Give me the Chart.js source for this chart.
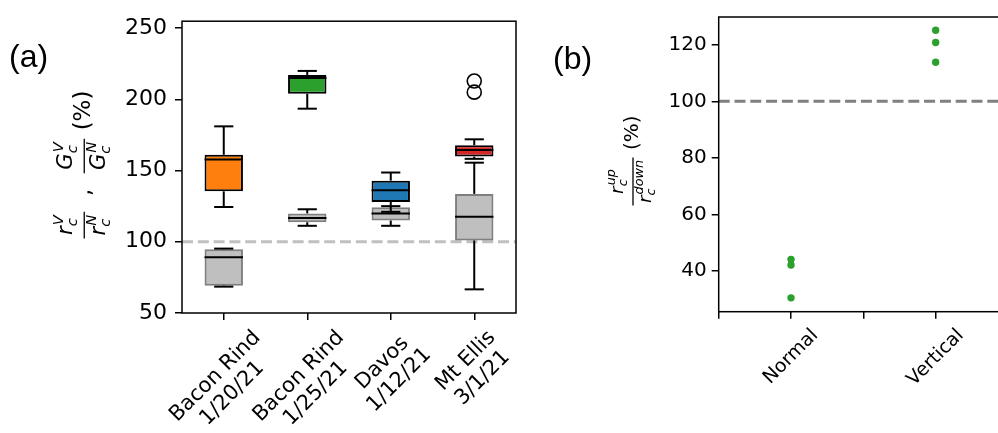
<!DOCTYPE html>
<html><head><meta charset="utf-8">
<script src="https://cdn.jsdelivr.net/npm/chart.js@4.4.1/dist/chart.umd.min.js"></script>
<style>
html,body{margin:0;padding:0;background:#fff;overflow:hidden;width:998px;height:433px;}
#wrap{position:relative;width:998px;height:433px;overflow:hidden;background:#fff;}
#ca{position:absolute;left:0;top:0;}
#cb{position:absolute;left:540px;top:0;}
</style></head><body>
<div id="wrap"><canvas id="ca" width="540" height="433"></canvas><canvas id="cb" width="560" height="433"></canvas></div>
<script>
// ---------- Panel (a) data ----------
const sites = ['Bacon Rind\n1/20/21', 'Bacon Rind\n1/25/21', 'Davos\n1/12/21', 'Mt Ellis\n3/1/21'];
const gColors = ['#ff7f0e', '#2ca02c', '#1f77b4', '#d62728'];
// G_c ratio boxes (coloured)
const gLow  = [124.4, 193.4, 121.0, 158.2];
const gQ1   = [135.4, 203.9, 127.9, 159.8];
const gMed  = [157.7, 214.9, 136.1, 164.4];
const gQ3   = [161.0, 217.1, 142.9, 167.8];
const gHigh = [181.0, 219.9, 148.6, 171.9];
const gOutliers = [[], [], [], [212.8, 205.0]];
// r_c ratio boxes (grey)
const rLow  = [68.5, 111.2, 111.2, 66.6];
const rQ1   = [69.2, 113.7, 114.9, 100.9];
const rMed  = [89.2, 116.6, 119.9, 117.6];
const rQ3   = [94.7, 119.9, 124.2, 133.6];
const rHigh = [95.2, 122.8, 125.0, 155.5];
const yTicksA = [50, 100, 150, 200, 250];
const refLine = 100;

// ---------- Panel (b) data ----------
const conditions = ['', 'Normal', '', 'Vertical', ''];
const normalVals = [44.2, 42.2, 30.6];
const verticalVals = [125.1, 120.8, 113.8];
const yTicksB = [40, 60, 80, 100, 120];

const FONT = '"DejaVu Sans"';

function drawRotLabel(ctx, lines, cx, top, fs, lineH, deg) {
  ctx.save();
  ctx.font = fs + 'px ' + FONT;
  const W = Math.max(...lines.map(l => ctx.measureText(l).width));
  const H = lines.length * lineH;
  const a = deg * Math.PI / 180;
  const bh = W * Math.sin(a) + H * Math.cos(a);
  const cy = top + bh / 2;
  ctx.translate(cx, cy); ctx.rotate(-a);
  ctx.fillStyle = '#000'; ctx.textAlign = 'center'; ctx.textBaseline = 'middle';
  lines.forEach((l, i) => ctx.fillText(l, 0, -H / 2 + lineH * (i + 0.5)));
  ctx.restore();
}

function drawFracLabel(ctx, cx, cy, items, fs) {
  const F = s => s + 'px ' + FONT;
  const FI = s => 'italic ' + s + 'px ' + FONT;
  const bf = fs * 0.92, sf = fs * 0.64, axis = fs * 0.25;
  const mw = (font, s) => { ctx.font = font; return ctx.measureText(s || '').width; };
  const termW = t => mw(FI(bf), t[0]) + Math.max(mw(FI(sf), t[1]), mw(FI(sf), t[2])) + 1;
  const widths = items.map(it => it.num ? Math.max(termW(it.num), termW(it.den)) + fs * 0.35 : mw(F(fs), it.text));
  const total = widths.reduce((a, b) => a + b, 0);
  ctx.save();
  ctx.translate(cx, cy); ctx.rotate(-Math.PI / 2);
  ctx.fillStyle = '#000'; ctx.strokeStyle = '#000'; ctx.textBaseline = 'alphabetic'; ctx.textAlign = 'left';
  function drawTerm(t, u0, base) {
    ctx.font = FI(bf); ctx.fillText(t[0], u0, base);
    const w0 = mw(FI(bf), t[0]);
    ctx.font = FI(sf);
    ctx.fillText(t[1], u0 + w0, base + sf * 0.35);
    ctx.fillText(t[2], u0 + w0 + 1, base - bf * 0.42);
  }
  let u = -total / 2;
  items.forEach((it, k) => {
    const w = widths[k];
    if (it.num) {
      ctx.lineWidth = 1.3;
      ctx.beginPath(); ctx.moveTo(u + 1, -axis); ctx.lineTo(u + w - 1, -axis); ctx.stroke();
      drawTerm(it.num, u + (w - termW(it.num)) / 2, -axis - fs * 0.52);
      drawTerm(it.den, u + (w - termW(it.den)) / 2, -axis + fs * 0.9);
    } else {
      ctx.font = F(fs); ctx.fillText(it.text, u, 0);
    }
    u += w;
  });
  ctx.restore();
}

function dashedRef(chart, color) {
  const {ctx, chartArea: ca, scales: {y}} = chart;
  const py = y.getPixelForValue(refLine);
  ctx.save();
  ctx.strokeStyle = color; ctx.lineWidth = 3; ctx.setLineDash([11, 4.8]);
  ctx.beginPath(); ctx.moveTo(ca.left, py); ctx.lineTo(ca.right, py); ctx.stroke();
  ctx.restore();
}

function frame(chart) {
  const {ctx, chartArea: ca} = chart;
  ctx.save(); ctx.strokeStyle = '#000'; ctx.lineWidth = 1.5;
  ctx.strokeRect(ca.left, ca.top, ca.right - ca.left, ca.bottom - ca.top);
  ctx.restore();
}

const plugA = {
  id: 'plugA',
  beforeDatasetsDraw(chart) { dashedRef(chart, '#c0c0c0'); },
  afterDatasetsDraw(chart) {
    const ctx = chart.ctx, ys = chart.scales.y;
    const Y = v => ys.getPixelForValue(v);
    const groups = [
      {meta: chart.getDatasetMeta(1), low: rLow, q1: rQ1, med: rMed, q3: rQ3, high: rHigh},
      {meta: chart.getDatasetMeta(0), low: gLow, q1: gQ1, med: gMed, q3: gQ3, high: gHigh}
    ];
    ctx.save();
    ctx.strokeStyle = '#000'; ctx.lineWidth = 2;
    const line = (x1, y1, x2, y2) => { ctx.beginPath(); ctx.moveTo(x1, y1); ctx.lineTo(x2, y2); ctx.stroke(); };
    groups.forEach(g => {
      g.meta.data.forEach((bar, i) => {
        const x = bar.x, hw = bar.width / 2, cw = hw / 2;
        line(x, Y(g.q3[i]), x, Y(g.high[i]));
        line(x - cw, Y(g.high[i]), x + cw, Y(g.high[i]));
        line(x, Y(g.q1[i]), x, Y(g.low[i]));
        line(x - cw, Y(g.low[i]), x + cw, Y(g.low[i]));
        line(x - hw, Y(g.med[i]), x + hw, Y(g.med[i]));
      });
    });
    ctx.restore();
  },
  afterDraw(chart) {
    frame(chart);
    const ctx = chart.ctx, xs = chart.scales.x, ca = chart.chartArea;
    sites.forEach((s, i) => drawRotLabel(ctx, s.split('\n'), xs.getPixelForValue(i), ca.bottom + 13, 21, 24, 45));
    drawFracLabel(ctx, 90, 165, [
      {num: ['r', 'c', 'V'], den: ['r', 'c', 'N']},
      {text: '  ,  '},
      {num: ['G', 'c', 'V'], den: ['G', 'c', 'N']},
      {text: ' (%)'}
    ], 23);
    ctx.save(); ctx.fillStyle = '#000'; ctx.font = '32px "Liberation Sans"'; ctx.textBaseline = 'alphabetic';
    ctx.fillText('(a)', 9, 67); ctx.restore();
  }
};

const plugB = {
  id: 'plugB',
  beforeDatasetsDraw(chart) { dashedRef(chart, '#808080'); },
  afterDraw(chart) {
    frame(chart);
    const ctx = chart.ctx, xs = chart.scales.x, ca = chart.chartArea;
    conditions.forEach((c, i) => { if (c) drawRotLabel(ctx, [c], xs.getPixelForValue(i), ca.bottom + 13, 19, 22, 45); });
    drawFracLabel(ctx, 98, 161, [
      {num: ['r', 'c', 'up'], den: ['r', 'c', 'down']},
      {text: ' (%)'}
    ], 20);
    ctx.save(); ctx.fillStyle = '#000'; ctx.font = '32px "Liberation Sans"'; ctx.textBaseline = 'alphabetic';
    ctx.fillText('(b)', 13, 69); ctx.restore();
  }
};

const tickGrid = {drawOnChartArea: false, tickLength: 7, color: '#000', lineWidth: 1.5, tickWidth: 1.5, tickColor: '#000', offset: false};

new Chart(document.getElementById('ca'), {
  type: 'bar',
  data: {
    labels: sites,
    datasets: [
      {label: 'G', data: gQ1.map((v, i) => [v, gQ3[i]]), backgroundColor: gColors, borderColor: '#000', borderWidth: 2,
       borderSkipped: false, grouped: false, order: 1, barPercentage: 0.46, categoryPercentage: 1},
      {label: 'r', data: rQ1.map((v, i) => [v, rQ3[i]]), backgroundColor: 'rgba(128,128,128,0.5)', borderColor: 'rgba(0,0,0,0.5)', borderWidth: 2,
       borderSkipped: false, grouped: false, order: 2, barPercentage: 0.46, categoryPercentage: 1},
      {type: 'line', label: 'fliers', data: gOutliers.flatMap((arr, i) => arr.map(v => ({x: sites[i], y: v}))),
       showLine: false, pointRadius: 7, pointBorderWidth: 1.6, pointBackgroundColor: 'rgba(0,0,0,0)', pointBorderColor: '#000', order: 0}
    ]
  },
  options: {
    responsive: false, animation: false, events: [],
    plugins: {legend: {display: false}, tooltip: {enabled: false}},
    layout: {padding: {left: 0, top: 14, right: 24, bottom: 0}},
    scales: {
      x: {grid: tickGrid, ticks: {display: false}, border: {display: false}, afterFit: s => { s.height = 120; }},
      y: {min: 50, max: 254.8, afterBuildTicks: s => { s.ticks = yTicksA.map(v => ({value: v})); },
          ticks: {font: {family: 'DejaVu Sans', size: 22}, color: '#000', padding: 8},
          grid: tickGrid, border: {display: false}, afterFit: s => { s.width = 182; }}
    }
  },
  plugins: [plugA]
});

new Chart(document.getElementById('cb'), {
  type: 'line',
  data: {
    labels: conditions,
    datasets: [{
      data: normalVals.map(v => ({x: 'Normal', y: v})).concat(verticalVals.map(v => ({x: 'Vertical', y: v}))),
      showLine: false, pointRadius: 3.7, pointBorderWidth: 0, pointBackgroundColor: '#2ca02c', borderColor: '#2ca02c'
    }]
  },
  options: {
    responsive: false, animation: false, events: [],
    plugins: {legend: {display: false}, tooltip: {enabled: false}},
    layout: {padding: {left: 0, top: 13.3, right: 92, bottom: 0}},
    scales: {
      x: {type: 'category', offset: false, grid: tickGrid, ticks: {display: false}, border: {display: false}, afterFit: s => { s.height = 433 - 311.7; }},
      y: {min: 25.7, max: 129.8, afterBuildTicks: s => { s.ticks = yTicksB.map(v => ({value: v})); },
          ticks: {font: {family: 'DejaVu Sans', size: 20}, color: '#000', padding: 5},
          grid: tickGrid, border: {display: false}, afterFit: s => { s.width = 178.7; }}
    }
  },
  plugins: [plugB]
});
</script>
</body></html>
